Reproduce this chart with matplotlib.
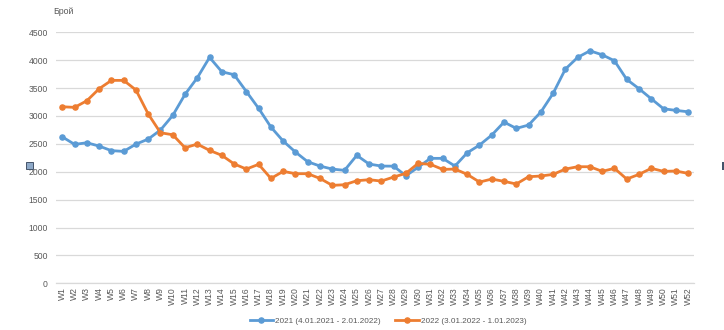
import matplotlib.pyplot as plt
from matplotlib.patches import Rectangle

plt.rcParams["font.family"] = ["Liberation Sans", "DejaVu Sans"]

# weekly counts
weeks = [f"W{i}" for i in range(1, 53)]

counts_2021 = [
    2625, 2490, 2520, 2460, 2378, 2365, 2495, 2585, 2748, 3010,
    3387, 3685, 4050, 3792, 3740, 3438, 3136, 2801, 2550, 2353,
    2179, 2102, 2048, 2025, 2294, 2138, 2102, 2100, 1928, 2080,
    2240, 2240, 2102, 2340, 2478, 2657, 2890, 2777, 2837, 3070,
    3405, 3840, 4050, 4168, 4097, 3989, 3656, 3489, 3308, 3129,
    3100, 3075,
]

counts_2022 = [
    3165, 3154, 3273, 3488, 3638, 3638, 3465, 3035, 2699, 2663,
    2430, 2496, 2383, 2294, 2140, 2048, 2133, 1880, 2007, 1965,
    1965, 1880, 1756, 1767, 1839, 1857, 1833, 1905, 1971, 2150,
    2133, 2042, 2048, 1953, 1815, 1869, 1828, 1780, 1911, 1923,
    1953, 2048, 2090, 2090, 2007, 2061, 1869, 1953, 2061, 2007,
    2013, 1971,
]

label_2021 = "2021 (4.01.2021 - 2.01.2022)"
label_2022 = "2022 (3.01.2022 - 1.01.2023)"
y_ticks = list(range(0, 5000, 500))

BLUE = "#5B9BD5"
ORANGE = "#ED7D31"
TEXT = "#595959"
GRID = "#D9D9D9"

W, H = 724, 330
fig = plt.figure(figsize=(W / 100, H / 100), dpi=100)
fig.patch.set_facecolor("white")

# plot area in pixel coords of the reference
left, right, top, bottom = 56.2, 694.2, 32.3, 283.3
ax = fig.add_axes([left / W, 1 - bottom / H, (right - left) / W, (bottom - top) / H])

x = list(range(len(weeks)))
ax.plot(x, counts_2021, color=BLUE, lw=2.0, marker="o", ms=3.7, label=label_2021, zorder=3)
ax.plot(x, counts_2022, color=ORANGE, lw=2.0, marker="o", ms=3.7, label=label_2022, zorder=3)

ax.set_xlim(-0.5, len(weeks) - 0.5)
ax.set_ylim(0, 4500)
ax.set_yticks(y_ticks)
ax.set_xticks(x)
ax.set_xticklabels(weeks, rotation=90)
ax.tick_params(axis="both", length=0, labelsize=6.2, labelcolor=TEXT)
ax.tick_params(axis="y", pad=6)
ax.tick_params(axis="x", pad=3)

ax.yaxis.grid(True, color=GRID, lw=0.9)
ax.set_axisbelow(True)
for s in ["top", "right", "left"]:
    ax.spines[s].set_visible(False)
ax.spines["bottom"].set_color(GRID)
ax.spines["bottom"].set_linewidth(0.9)

fig.text(63 / W, 1 - 11 / H, "Брой", fontsize=6.3, color=TEXT, ha="center", va="center")

leg = fig.legend(
    loc="center",
    bbox_to_anchor=(388 / W, 1 - 321 / H),
    ncol=2,
    frameon=False,
    fontsize=5.9,
    handlelength=2.9,
    handletextpad=0.2,
    columnspacing=1.8,
)
for t in leg.get_texts():
    t.set_color(TEXT)

# selection handles left over from the copied chart
fig.patches.append(Rectangle((26 / W, 1 - 169 / H), 7 / W, 7 / H, transform=fig.transFigure,
                             facecolor="#8EA9C8", edgecolor="#44546A", lw=0.7))
fig.patches.append(Rectangle((722 / W, 1 - 170 / H), 2 / W, 8 / H, transform=fig.transFigure,
                             facecolor="#44546A", edgecolor="none"))

fig.savefig("out.png", dpi=100, facecolor="white")
